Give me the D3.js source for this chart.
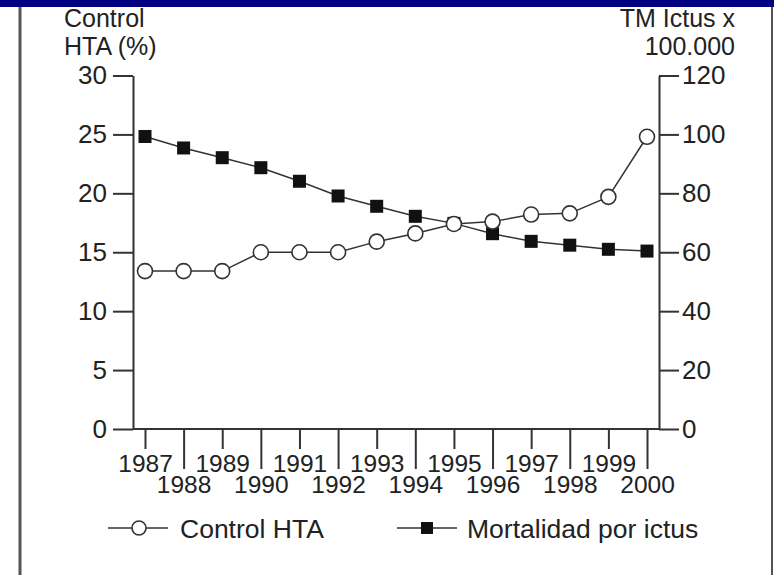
<!DOCTYPE html>
<html><head><meta charset="utf-8">
<script src="https://cdn.jsdelivr.net/npm/d3@7"></script>
<style>body{margin:0;background:#fff}svg{display:block}text{font-family:"Liberation Sans",Arial,sans-serif;fill:#222}</style>
</head><body>
<script>
const years = [1987,1988,1989,1990,1991,1992,1993,1994,1995,1996,1997,1998,1999,2000];
const controlHTA = [13.4,13.4,13.4,15,15,15,15.9,16.6,17.4,17.6,18.2,18.3,19.7,24.8];
const mortalidad = [99.3,95.4,92.1,88.7,84.1,79.1,75.6,72.2,69.8,66.3,63.7,62.4,61,60.4];
const leftTicks = [0,5,10,15,20,25,30];
const rightTicks = [0,20,40,60,80,100,120];
const leftTitle = ["Control","HTA (%)"];
const rightTitle = ["TM Ictus x","100.000"];
const legendLabels = ["Control HTA","Mortalidad por ictus"];

const W=774,H=575;
const svg=d3.select("body").append("svg").attr("width",W).attr("height",H);
svg.append("rect").attr("x",0).attr("y",0).attr("width",W).attr("height",7).attr("fill","#000080");
svg.append("line").attr("x1",20).attr("x2",20).attr("y1",7).attr("y2",H).attr("stroke","#555").attr("stroke-width",3);
svg.append("line").attr("x1",772).attr("x2",772).attr("y1",7).attr("y2",H).attr("stroke","#555").attr("stroke-width",2);

const x=d3.scaleLinear().domain([1987,2000]).range([145,647]);
const yL=d3.scaleLinear().domain([0,30]).range([429,75.5]);
const yR=d3.scaleLinear().domain([0,120]).range([429,75.5]);
const axisColor="#333";
const FF="Liberation Sans, Arial, sans-serif";

const gl=svg.append("g").attr("transform","translate(133,0)")
  .call(d3.axisLeft(yL).tickValues(leftTicks).tickSize(20).tickPadding(6).tickSizeOuter(0));
const gr=svg.append("g").attr("transform","translate(659,0)")
  .call(d3.axisRight(yR).tickValues(rightTicks).tickSize(20).tickPadding(3).tickSizeOuter(0));
[gl,gr].forEach(g=>{
  g.select(".domain").attr("stroke",axisColor).attr("stroke-width",2);
  g.selectAll(".tick line").attr("stroke",axisColor).attr("stroke-width",2);
  g.selectAll(".tick text").attr("font-size",26).attr("fill","#222").attr("font-family",FF);
});
svg.append("line").attr("x1",133).attr("x2",659).attr("y1",429).attr("y2",429).attr("stroke",axisColor).attr("stroke-width",2);
const gx=svg.append("g").attr("transform","translate(0,429)")
  .call(d3.axisBottom(x).tickValues(years).tickFormat(d3.format("d")).tickSizeOuter(0));
gx.select(".domain").remove();
gx.selectAll(".tick line").attr("stroke",axisColor).attr("stroke-width",2)
  .attr("y2",d=>d%2===0?40:20);
gx.selectAll(".tick text").attr("font-size",24.5).attr("fill","#222")
  .attr("font-family",FF)
  .attr("dy",null).attr("y",d=>d%2===0?64:43);

svg.selectAll("text.lt").data(leftTitle).join("text").attr("class","lt")
  .attr("x",64).attr("y",(d,i)=>27+i*28).attr("font-size",25).text(d=>d);
svg.selectAll("text.rt").data(rightTitle).join("text").attr("class","rt")
  .attr("x",735).attr("y",(d,i)=>27+i*28).attr("text-anchor","end").attr("font-size",25).text(d=>d);

const lineL=d3.line().x((d,i)=>x(years[i])).y(d=>yL(d));
const lineR=d3.line().x((d,i)=>x(years[i])).y(d=>yR(d));
svg.append("path").attr("d",lineR(mortalidad)).attr("fill","none").attr("stroke","#333").attr("stroke-width",1.5);
svg.selectAll("rect.m").data(mortalidad).join("rect").attr("class","m")
  .attr("x",(d,i)=>x(years[i])-6.5).attr("y",d=>yR(d)-6.5).attr("width",13).attr("height",13)
  .attr("fill","#111");
svg.append("path").attr("d",lineL(controlHTA)).attr("fill","none").attr("stroke","#333").attr("stroke-width",1.5);
svg.selectAll("circle.c").data(controlHTA).join("circle").attr("class","c")
  .attr("cx",(d,i)=>x(years[i])).attr("cy",d=>yL(d)).attr("r",7.5)
  .attr("fill","#fff").attr("stroke","#333").attr("stroke-width",1.6);

const lg=svg.append("g");
lg.append("line").attr("x1",108).attr("x2",168).attr("y1",528).attr("y2",528).attr("stroke","#333").attr("stroke-width",1.6);
lg.append("circle").attr("cx",139).attr("cy",528).attr("r",7).attr("fill","#fff").attr("stroke","#333").attr("stroke-width",1.6);
lg.append("text").attr("x",180).attr("y",538).attr("font-size",26.5).text(legendLabels[0]);
lg.append("line").attr("x1",397).attr("x2",457).attr("y1",528).attr("y2",528).attr("stroke","#333").attr("stroke-width",1.6);
lg.append("rect").attr("x",421).attr("y",522).attr("width",12).attr("height",12).attr("fill","#111");
lg.append("text").attr("x",467).attr("y",538).attr("font-size",26.5).text(legendLabels[1]);
</script>
</body></html>
